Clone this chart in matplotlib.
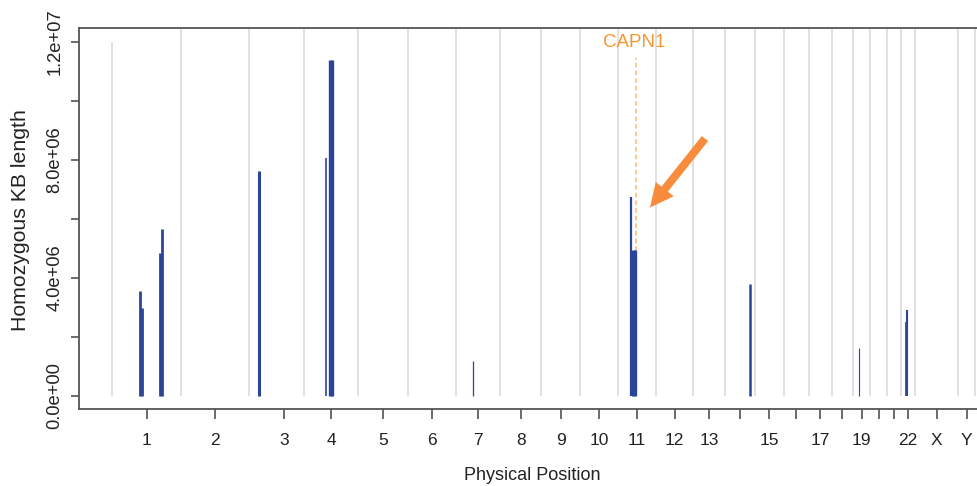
import matplotlib
matplotlib.use("Agg")
import matplotlib.pyplot as plt

# longueurs des chromosomes (Mb, hg19)
chrom_names = ["1", "2", "3", "4", "5", "6", "7", "8", "9", "10", "11", "12",
               "13", "14", "15", "16", "17", "18", "19", "20", "21", "22", "X", "Y"]
chrom_len = [249.25, 243.2, 198.0, 191.15, 180.9, 171.1, 159.1, 146.4, 141.2,
             135.5, 135.0, 133.85, 115.2, 107.3, 102.5, 90.35, 81.2, 78.1,
             59.1, 63.0, 48.1, 51.3, 155.3, 59.4]
# etiquettes affichees (R en saute certaines)
tick_labels = ["1", "2", "3", "4", "5", "6", "7", "8", "9", "10", "11", "12",
               "13", "", "15", "", "17", "", "19", "", "", "22", "X", "Y"]

# segments homozygotes : chromosome, position (Mb), longueur
roh_chrom = ["1", "1", "1", "1", "3", "4", "4", "4", "7", "11", "11", "11",
             "14", "19", "22", "22"]
roh_pos = [101.5, 109.0, 171.5, 178.0, 33.8, 77.2, 91.0, 98.5, 62.4, 45.8, 52.5,
           59.5, 87.6, 19.1, 18.5, 23.2]
roh_len = [3.57e6, 2.97e6, 4.84e6, 5.65e6, 7.64e6, 8.06e6, 11.39e6, 11.39e6,
           1.2e6, 6.76e6, 4.95e6, 4.95e6, 3.79e6, 1.62e6, 2.5e6, 2.92e6]
roh_lw = [2.0, 2.0, 2.0, 2.0, 2.2, 1.2, 2.4, 2.4, 0.9, 1.6, 2.4, 2.4, 1.8,
          0.8, 1.2, 1.5]

gene_name = "CAPN1"
gene_chrom = "11"
gene_pos = 64.95

starts = {}
acc = 0.0
for n, l in zip(chrom_names, chrom_len):
    starts[n] = acc
    acc += l
genome_end = acc
bounds = [starts[n] for n in chrom_names] + [genome_end]
mids = [starts[n] + l / 2 for n, l in zip(chrom_names, chrom_len)]
mids[2] = starts["3"] + 125.5   # le tick du chr3 n'est pas au milieu

plt.rcParams["font.family"] = ["Liberation Sans", "DejaVu Sans"]

fig = plt.figure(figsize=(9.77, 4.86), dpi=100)
ax = fig.add_axes([79 / 977, 77 / 486, 906 / 977, 381 / 486])

ax.set_xlim(-118.4, 3131.5)
ax.set_ylim(-0.44e6, 12.48e6)

grid_c = "#dcdcdc"
ax.vlines(bounds[0], 0, 12e6, color=grid_c, lw=1.2, zorder=1)
ax.vlines(bounds[1:], 0, 12.48e6, color=grid_c, lw=1.2, zorder=1)

gx = starts[gene_chrom] + gene_pos
ax.vlines(gx, 0, 11.45e6, color="#fbb877", lw=1.1, linestyles=(0, (3, 2)), zorder=2)

xs = [starts[c] + p for c, p in zip(roh_chrom, roh_pos)]
for x, h, w in zip(xs, roh_len, roh_lw):
    ax.vlines(x, 0, h, color="#2b4596", lw=w, zorder=3)

ax.text(gx - 8, 11.98e6, gene_name, color="#f7962f", fontsize=13.5,
        ha="center", va="center")

ax.annotate("", xy=(1929.8, 6.39e6), xytext=(2127, 8.73e6),
            arrowprops=dict(arrowstyle="simple,head_length=17,head_width=16.5,tail_width=5.8",
                            mutation_scale=1, color="#f98c3c", lw=0, shrinkA=0, shrinkB=0),
            zorder=5)

for s in ax.spines.values():
    s.set_color("#555555")
    s.set_linewidth(1.3)

ax.set_xticks(mids)
ax.set_xticklabels(tick_labels, fontsize=12.5, color="#222222")
ax.tick_params(axis="x", length=7, width=1.1, color="#444444", pad=10)

yt = [0, 2e6, 4e6, 6e6, 8e6, 10e6, 12e6]
ylabs = ["0.0e+00", "", "4.0e+06", "", "8.0e+06", "", "1.2e+07"]
ax.set_yticks(yt)
ax.set_yticklabels(ylabs, rotation=90, va="center", fontsize=13.2, color="#222222")
ax.tick_params(axis="y", length=6, width=1.1, color="#444444", pad=5)

fig.text(532 / 977, 1 - 475 / 486, "Physical Position", ha="center", va="center",
         fontsize=13, color="#222222")
fig.text(21 / 977, 1 - 220 / 486, "Homozygous KB length", ha="center", va="center",
         rotation=90, fontsize=15.3, color="#222222")

fig.savefig("out.png", dpi=100)
